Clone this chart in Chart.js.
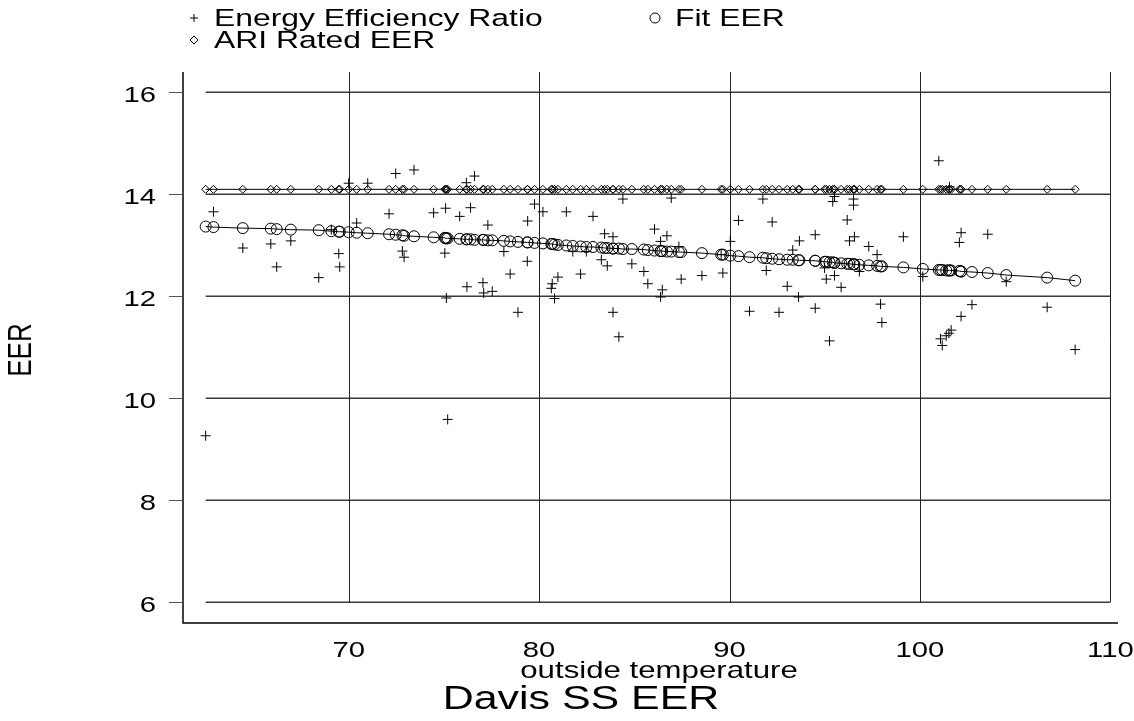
<!DOCTYPE html>
<html lang="en">
<head>
    <meta charset="UTF-8">
    <title>Davis SS EER</title>
    <script src="https://cdn.jsdelivr.net/npm/chart.js"></script>
    <style>
        body {
            margin: 0;
            padding: 0;
            background: #fff;
        }
        #eerChart {
            display: block;
        }
    </style>
</head>
<body>
    <canvas id="eerChart" width="1134" height="721"></canvas>
    <script>
// outside temperature for each observation
const temps = [
    62.49, 62.90, 64.44, 65.91, 66.22, 66.96, 68.43, 69.09, 69.48, 69.53,
    70.00, 70.42, 71.00, 72.12, 72.47, 72.82, 72.91, 73.43, 74.46, 75.05,
    75.09, 75.13, 75.20, 75.83, 76.18, 76.21, 76.40, 76.61, 77.05, 77.09,
    77.31, 77.54, 78.15, 78.48, 78.89, 79.38, 79.40, 79.76, 80.20, 80.64,
    80.69, 80.81, 80.99, 81.43, 81.77, 82.18, 82.48, 82.83, 83.27, 83.44,
    83.58, 83.88, 83.88, 84.19, 84.40, 84.87, 85.50, 85.71, 86.06, 86.38,
    86.38, 86.47, 86.71, 86.94, 87.34, 87.46, 88.55, 89.56, 89.65, 90.04,
    90.47, 91.05, 91.75, 91.93, 92.24, 92.60, 93.03, 93.32, 93.62, 93.67,
    94.50, 94.50, 94.99, 95.08, 95.25, 95.42, 95.51, 95.51, 95.86, 96.18,
    96.30, 96.51, 96.51, 96.56, 96.82, 97.31, 97.75, 97.93, 98.00, 99.13,
    100.15, 100.99, 101.08, 101.17, 101.38, 101.52, 101.55, 101.64, 102.07, 102.16,
    102.16, 102.73, 103.56, 104.53, 106.68, 108.15
];

// measured Energy Efficiency Ratio
const eer = [
    9.26, 13.65, 12.94, 13.02, 12.57, 13.08, 12.36, 13.30, 12.83, 12.57,
    14.21, 13.43, 14.21, 13.61, 14.40, 12.88, 12.76, 14.47, 13.63, 12.84,
    13.72, 11.96, 9.58, 13.56, 14.22, 12.18, 13.73, 14.35, 12.26, 12.06,
    13.39, 12.09, 12.87, 12.43, 11.68, 12.68, 13.47, 13.80, 13.65, 12.15,
    12.24, 11.95, 12.37, 13.65, 12.87, 12.43, 12.87, 13.56, 12.71, 13.22,
    12.59, 13.16, 11.68, 11.20, 13.90, 12.63, 12.48, 12.24, 13.31, 13.07,
    11.98, 12.12, 13.18, 13.92, 12.97, 12.33, 12.40, 12.81, 12.45, 13.07,
    13.48, 11.70, 13.90, 12.50, 13.45, 11.68, 12.19, 12.90, 11.98, 13.08,
    13.20, 11.76, 12.55, 12.33, 11.12, 13.85, 13.95, 12.40, 12.17, 13.49,
    13.08, 13.90, 13.78, 13.16, 12.48, 12.97, 12.81, 11.84, 11.48, 13.16,
    12.38, 14.65, 11.16, 11.03, 11.22, 11.27, 14.14, 11.33, 13.05, 13.24,
    11.60, 11.83, 13.21, 12.28, 11.78, 10.95
];

// fitted EER
const fitEer = [
    13.36, 13.35, 13.33, 13.32, 13.31, 13.30, 13.29, 13.27, 13.26, 13.26,
    13.25, 13.24, 13.23, 13.21, 13.20, 13.19, 13.18, 13.17, 13.15, 13.14,
    13.13, 13.13, 13.13, 13.12, 13.11, 13.11, 13.11, 13.10, 13.10, 13.10,
    13.09, 13.09, 13.08, 13.07, 13.06, 13.05, 13.05, 13.04, 13.03, 13.02,
    13.02, 13.01, 13.00, 12.99, 12.98, 12.97, 12.96, 12.96, 12.95, 12.94,
    12.94, 12.93, 12.93, 12.93, 12.92, 12.92, 12.91, 12.90, 12.89, 12.88,
    12.88, 12.88, 12.87, 12.87, 12.86, 12.86, 12.84, 12.81, 12.81, 12.79,
    12.78, 12.76, 12.75, 12.74, 12.73, 12.72, 12.71, 12.71, 12.70, 12.70,
    12.69, 12.69, 12.67, 12.67, 12.66, 12.66, 12.65, 12.65, 12.64, 12.63,
    12.63, 12.62, 12.62, 12.62, 12.61, 12.60, 12.59, 12.58, 12.58, 12.56,
    12.53, 12.51, 12.51, 12.51, 12.50, 12.50, 12.50, 12.50, 12.49, 12.48,
    12.48, 12.47, 12.45, 12.41, 12.36, 12.30
];

// ARI rated EER
const ariEer = [
    14.09, 14.09, 14.09, 14.09, 14.09, 14.09, 14.09, 14.09, 14.09, 14.09,
    14.09, 14.09, 14.09, 14.09, 14.09, 14.09, 14.09, 14.09, 14.09, 14.09,
    14.09, 14.09, 14.09, 14.09, 14.09, 14.09, 14.09, 14.09, 14.09, 14.09,
    14.09, 14.09, 14.09, 14.09, 14.09, 14.09, 14.09, 14.09, 14.09, 14.09,
    14.09, 14.09, 14.09, 14.09, 14.09, 14.09, 14.09, 14.09, 14.09, 14.09,
    14.09, 14.09, 14.09, 14.09, 14.09, 14.09, 14.09, 14.09, 14.09, 14.09,
    14.09, 14.09, 14.09, 14.09, 14.09, 14.09, 14.09, 14.09, 14.09, 14.09,
    14.09, 14.09, 14.09, 14.09, 14.09, 14.09, 14.09, 14.09, 14.09, 14.09,
    14.09, 14.09, 14.09, 14.09, 14.09, 14.09, 14.09, 14.09, 14.09, 14.09,
    14.09, 14.09, 14.09, 14.09, 14.09, 14.09, 14.09, 14.09, 14.09, 14.09,
    14.09, 14.09, 14.09, 14.09, 14.09, 14.09, 14.09, 14.09, 14.09, 14.09,
    14.09, 14.09, 14.09, 14.09, 14.09, 14.09
];

const xTicks = [70, 80, 90, 100, 110];
const yTicks = [6, 8, 10, 12, 14, 16];

const FONT = '"Liberation Sans", Arial, Helvetica, sans-serif';
const STRETCH = 1.3; // the original picture is wider than it is tall

function toPoints(ys) {
    return temps.map((t, i) => ({ x: t, y: ys[i] }));
}

// text drawn a bit wider, like the reference
function wideText(ctx, text, x, y, size, align, rotate) {
    ctx.save();
    ctx.translate(x, y);
    if (rotate) {
        ctx.rotate(-Math.PI / 2);
        ctx.scale(1, STRETCH);
    } else {
        ctx.scale(STRETCH, 1);
    }
    ctx.font = size + 'px ' + FONT;
    ctx.fillStyle = '#000';
    ctx.textAlign = align;
    ctx.textBaseline = 'middle';
    ctx.fillText(text, 0, 0);
    ctx.restore();
}

function marker(ctx, style, x, y, r) {
    ctx.save();
    ctx.strokeStyle = '#000';
    ctx.lineWidth = 1;
    ctx.beginPath();
    if (style === 'cross') {
        ctx.moveTo(x - r, y); ctx.lineTo(x + r, y);
        ctx.moveTo(x, y - r); ctx.lineTo(x, y + r);
    } else if (style === 'circle') {
        ctx.arc(x, y, r, 0, Math.PI * 2);
    } else {
        ctx.moveTo(x, y - r); ctx.lineTo(x + r, y);
        ctx.lineTo(x, y + r); ctx.lineTo(x - r, y); ctx.closePath();
    }
    ctx.stroke();
    ctx.restore();
}

// grid, axes, labels and legend in the stata look
const stataFrame = {
    id: 'stataFrame',
    beforeDatasetsDraw(chart) {
        const ctx = chart.ctx;
        const xs = chart.scales.x, ys = chart.scales.y;
        const area = chart.chartArea;
        const gx0 = xs.getPixelForValue(temps[0]);
        const gx1 = xs.getPixelForValue(xTicks[xTicks.length - 1]);
        const gy1 = ys.getPixelForValue(yTicks[0]);

        ctx.save();
        // horizontal grid
        ctx.strokeStyle = '#3a3a3a';
        ctx.lineWidth = 1.5;
        yTicks.forEach(v => {
            const py = Math.round(ys.getPixelForValue(v)) + 0.25;
            ctx.beginPath();
            ctx.moveTo(gx0, py);
            ctx.lineTo(gx1, py);
            ctx.stroke();
        });
        // vertical grid
        ctx.strokeStyle = '#222';
        ctx.lineWidth = 1;
        xTicks.forEach(v => {
            const px = Math.round(xs.getPixelForValue(v)) + 0.5;
            ctx.beginPath();
            ctx.moveTo(px, area.top);
            ctx.lineTo(px, gy1);
            ctx.stroke();
        });
        // axes
        ctx.strokeStyle = '#000';
        ctx.lineWidth = 1.5;
        ctx.beginPath();
        ctx.moveTo(area.left, area.top);
        ctx.lineTo(area.left, area.bottom);
        ctx.lineTo(area.right, area.bottom);
        ctx.stroke();
        // y ticks
        ctx.lineWidth = 1;
        ctx.strokeStyle = '#555';
        yTicks.forEach(v => {
            const py = Math.round(ys.getPixelForValue(v)) + 0.5;
            ctx.beginPath();
            ctx.moveTo(area.left - 14, py);
            ctx.lineTo(area.left, py);
            ctx.stroke();
            wideText(ctx, String(v), area.left - 27, py + 3, 22.5, 'right');
        });
        xTicks.forEach(v => {
            wideText(ctx, String(v), xs.getPixelForValue(v), area.bottom + 28, 22.5, 'center');
        });
        ctx.restore();
    },
    afterDraw(chart) {
        const ctx = chart.ctx;
        const area = chart.chartArea;
        // axis titles and caption
        wideText(ctx, 'outside temperature', 659, area.bottom + 48, 24, 'center');
        wideText(ctx, 'Davis SS EER', 581, area.bottom + 77, 33, 'center');
        wideText(ctx, 'EER', 22, 350, 26, 'center', true);

        // legend
        const ds = chart.data.datasets;
        const rows = [
            { x: 194, y: 18, i: 0 },
            { x: 655, y: 18, i: 1 },
            { x: 194, y: 40, i: 2 }
        ];
        rows.forEach(r => {
            const d = ds[r.i];
            marker(ctx, d.pointStyle, r.x, r.y, d.pointStyle === 'circle' ? 5 : 4);
            wideText(ctx, d.label, r.x + 20, r.y + 1, 24.5, 'left');
        });
    }
};

const ctx = document.getElementById('eerChart').getContext('2d');
new Chart(ctx, {
    type: 'scatter',
    data: {
        datasets: [
            {
                label: 'Energy Efficiency Ratio',
                data: toPoints(eer),
                pointStyle: 'cross',
                pointRadius: 5,
                borderColor: '#000',
                borderWidth: 1,
                showLine: false
            },
            {
                label: 'Fit EER',
                data: toPoints(fitEer),
                pointStyle: 'circle',
                pointRadius: 5.5,
                borderColor: '#000',
                backgroundColor: 'rgba(0,0,0,0)',
                borderWidth: 1,
                showLine: true
            },
            {
                label: 'ARI Rated EER',
                data: toPoints(ariEer),
                pointStyle: 'rectRot',
                pointRadius: 4,
                borderColor: '#000',
                backgroundColor: 'rgba(0,0,0,0)',
                borderWidth: 1,
                showLine: true
            }
        ]
    },
    options: {
        responsive: false,
        animation: false,
        layout: {
            padding: { left: 183, right: 16, top: 72, bottom: 98 }
        },
        scales: {
            x: { type: 'linear', min: 61.3, max: 110.4, display: false },
            y: { type: 'linear', min: 5.59, max: 16.39, display: false }
        },
        plugins: {
            legend: { display: false },
            tooltip: { enabled: false }
        }
    },
    plugins: [stataFrame]
});
    </script>
</body>
</html>
